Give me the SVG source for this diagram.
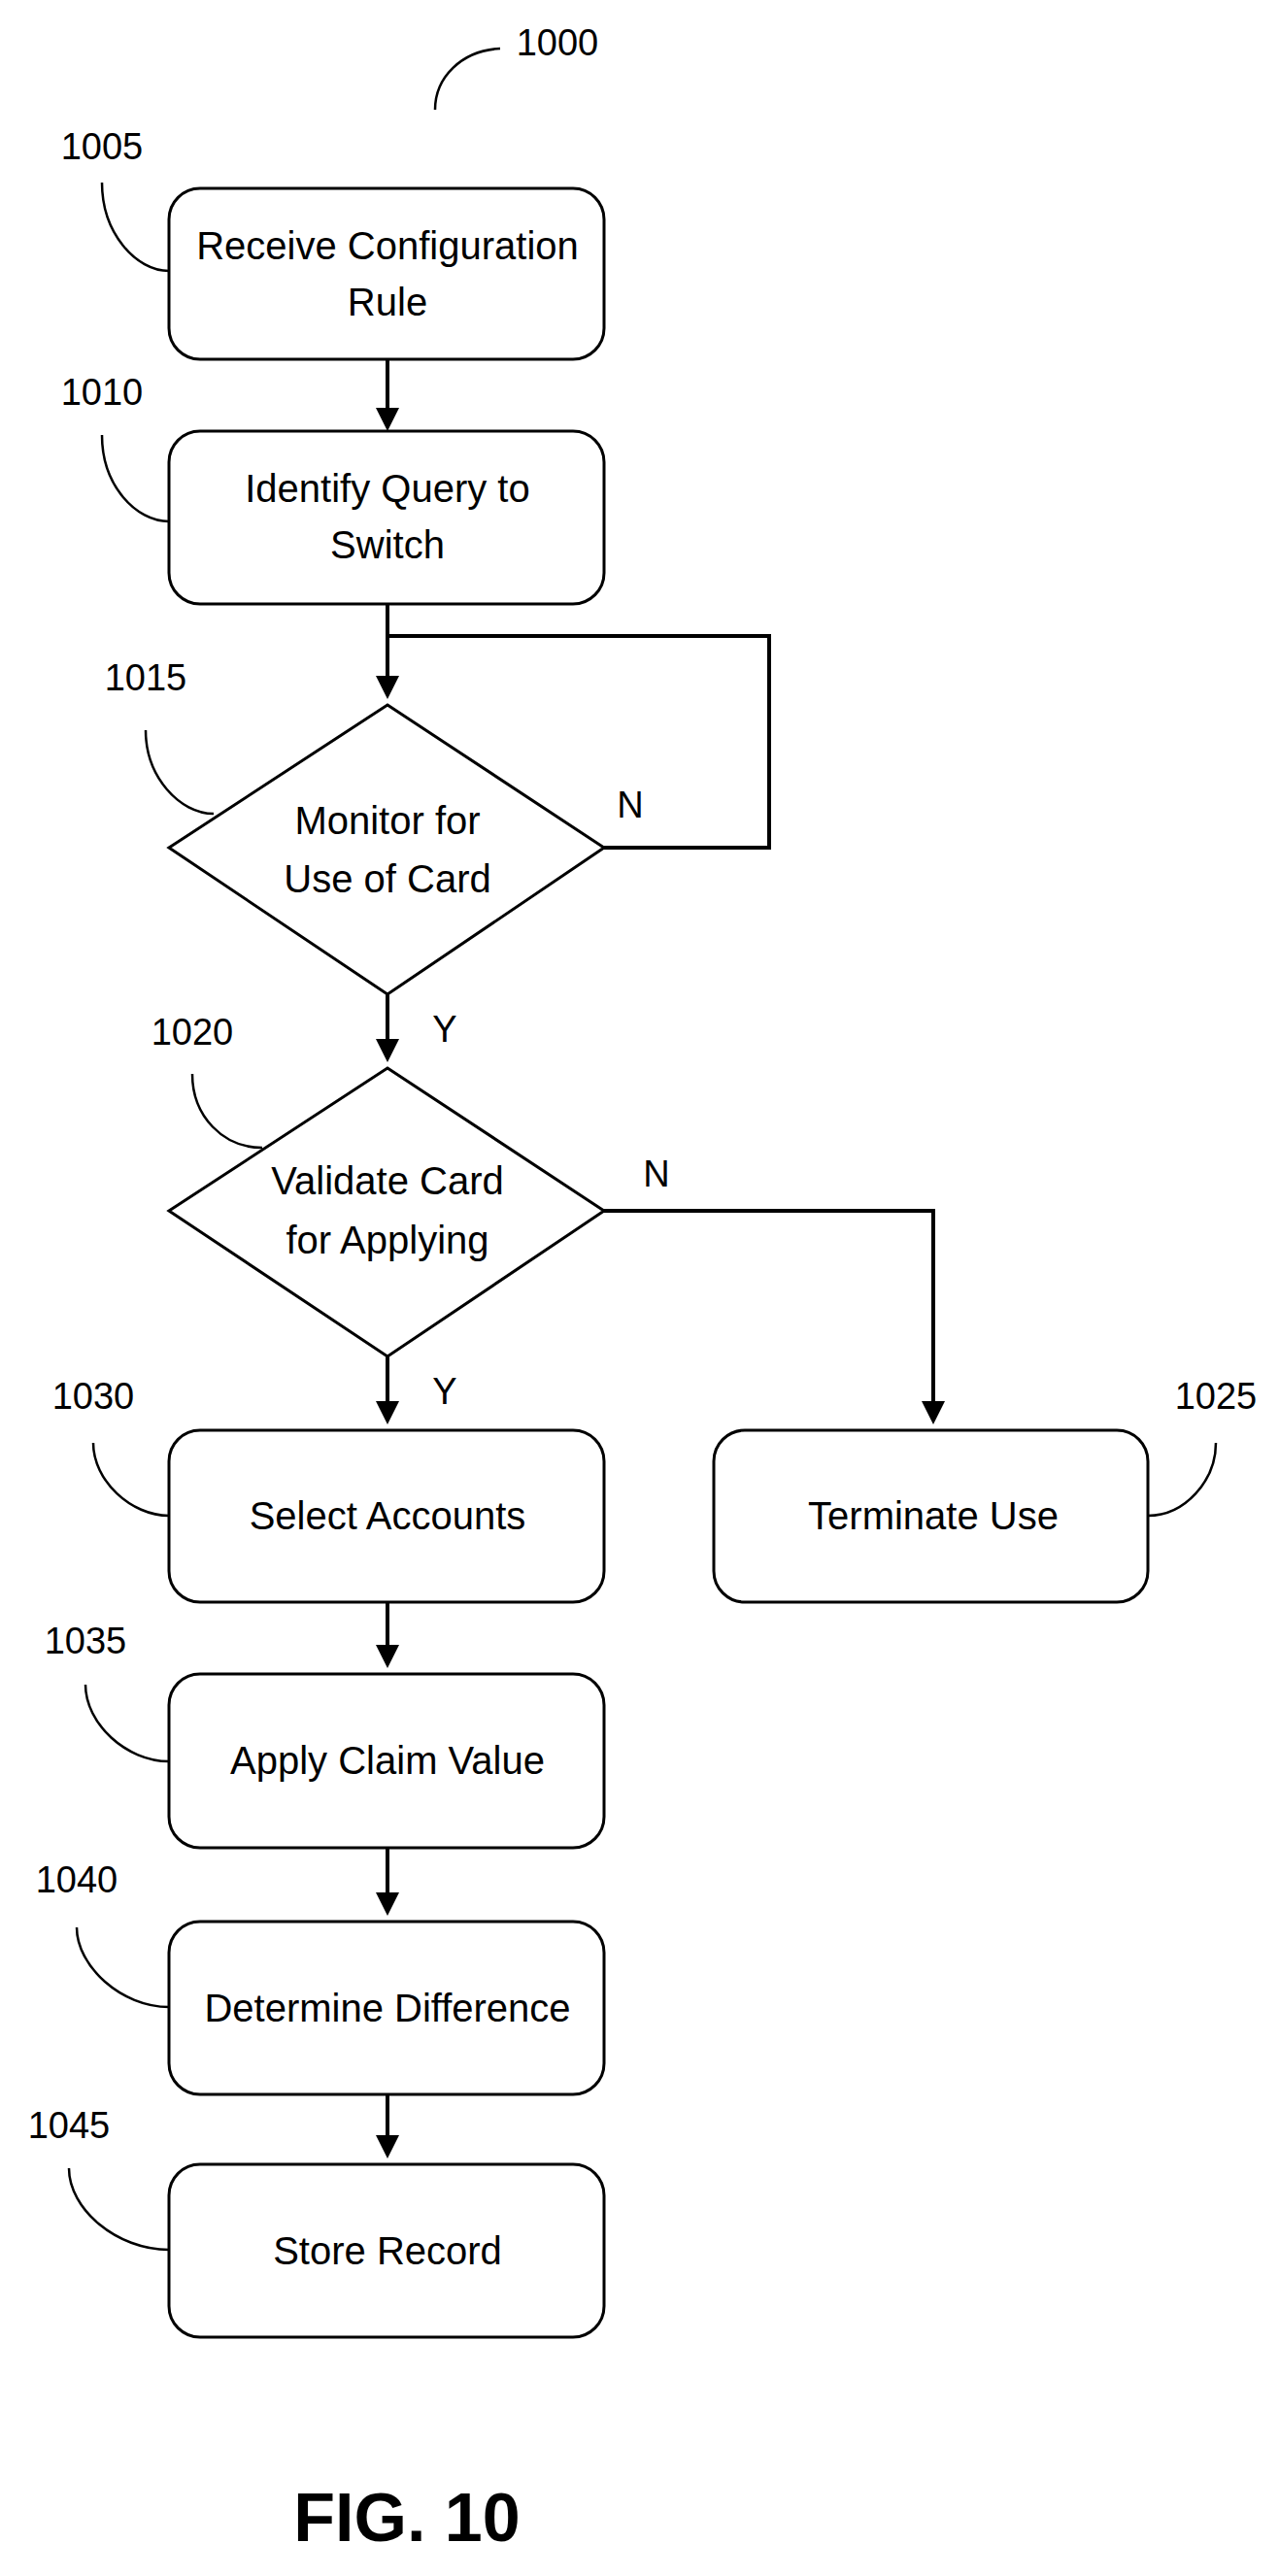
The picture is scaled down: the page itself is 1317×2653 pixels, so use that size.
<svg xmlns="http://www.w3.org/2000/svg" width="1317" height="2653" viewBox="0 0 1317 2653">
<style>
.b{fill:#fff;stroke:#000;stroke-width:3}
.t{font-family:"Liberation Sans Narrow","Liberation Sans",Arial,sans-serif;font-size:40px;text-anchor:middle;fill:#000}
.l{font-family:"Liberation Sans Narrow","Liberation Sans",Arial,sans-serif;font-size:38px;text-anchor:middle;fill:#000}
.c{fill:none;stroke:#000;stroke-width:4}
.ld{fill:none;stroke:#000;stroke-width:2.5}
</style>
<defs><marker id="a" markerWidth="6" markerHeight="6" refX="5" refY="3" orient="auto" markerUnits="strokeWidth"><path d="M0,0L6,3L0,6Z" fill="#000"/></marker></defs>
<rect width="1317" height="2653" fill="#fff"/>
<g id="connectors">
<path class="c" d="M399,370V440" marker-end="url(#a)"/>
<path class="c" d="M399,622V716" marker-end="url(#a)"/>
<path class="c" d="M399,655H792V873H622"/>
<path class="c" d="M399,1024V1090" marker-end="url(#a)"/>
<path class="c" d="M622,1247H961V1463" marker-end="url(#a)"/>
<path class="c" d="M399,1397V1463" marker-end="url(#a)"/>
<path class="c" d="M399,1650V1714" marker-end="url(#a)"/>
<path class="c" d="M399,1903V1969" marker-end="url(#a)"/>
<path class="c" d="M399,2157V2219" marker-end="url(#a)"/>
<text class="l" x="649" y="842">N</text>
<text class="l" x="458" y="1073">Y</text>
<text class="l" x="676" y="1222">N</text>
<text class="l" x="458" y="1446">Y</text>
</g>
<g id="leaders">
<path class="ld" d="M448,113C448,80 475,52 515,50"/>
<text class="l" x="574" y="57">1000</text>
<text class="l" x="105" y="164">1005</text><path class="ld" d="M105,188C105,240 140,279 174,279"/>
<text class="l" x="105" y="417">1010</text><path class="ld" d="M105,448C105,500 140,537 174,537"/>
<text class="l" x="150" y="711">1015</text><path class="ld" d="M150,752C150,800 185,838 220,838"/>
<text class="l" x="198" y="1076">1020</text><path class="ld" d="M198,1106C198,1150 230,1182 270,1182"/>
<text class="l" x="96" y="1451">1030</text><path class="ld" d="M96,1486C96,1525 135,1561 174,1561"/>
<text class="l" x="1252" y="1451">1025</text><path class="ld" d="M1252,1486C1252,1525 1220,1561 1182,1561"/>
<text class="l" x="88" y="1703">1035</text><path class="ld" d="M88,1735C88,1775 130,1814 174,1814"/>
<text class="l" x="79" y="1949">1040</text><path class="ld" d="M79,1985C79,2025 125,2067 174,2067"/>
<text class="l" x="71" y="2202">1045</text><path class="ld" d="M71,2233C71,2275 120,2317 174,2317"/>
</g>
<g id="n1005"><rect class="b" x="174" y="194" width="448" height="176" rx="32"/><text class="t" x="399" y="267">Receive Configuration</text><text class="t" x="399" y="325">Rule</text></g>
<g id="n1010"><rect class="b" x="174" y="444" width="448" height="178" rx="32"/><text class="t" x="399" y="517">Identify Query to</text><text class="t" x="399" y="575">Switch</text></g>
<g id="n1015"><path class="b" d="M399,726L622,873L399,1024L174,873Z"/><text class="t" x="399" y="859">Monitor for</text><text class="t" x="399" y="919">Use of Card</text></g>
<g id="n1020"><path class="b" d="M399,1100L622,1247L399,1397L174,1247Z"/><text class="t" x="399" y="1230">Validate Card</text><text class="t" x="399" y="1291">for Applying</text></g>
<g id="n1030"><rect class="b" x="174" y="1473" width="448" height="177" rx="32"/><text class="t" x="399" y="1575">Select Accounts</text></g>
<g id="n1025"><rect class="b" x="735" y="1473" width="447" height="177" rx="32"/><text class="t" x="961" y="1575">Terminate Use</text></g>
<g id="n1035"><rect class="b" x="174" y="1724" width="448" height="179" rx="32"/><text class="t" x="399" y="1827">Apply Claim Value</text></g>
<g id="n1040"><rect class="b" x="174" y="1979" width="448" height="178" rx="32"/><text class="t" x="399" y="2082">Determine Difference</text></g>
<g id="n1045"><rect class="b" x="174" y="2229" width="448" height="178" rx="32"/><text class="t" x="399" y="2332">Store Record</text></g>
<text x="419" y="2617" font-family="Liberation Sans Narrow, Liberation Sans, Arial, sans-serif" font-size="70" font-weight="bold" text-anchor="middle">FIG. 10</text>
</svg>
